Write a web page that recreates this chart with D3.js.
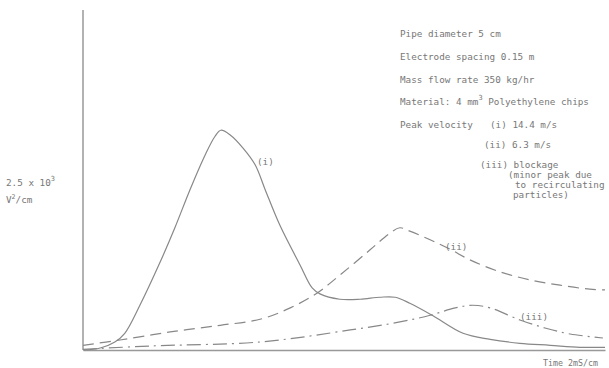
<!DOCTYPE html>
<html><head><meta charset="utf-8">
<script src="https://cdn.jsdelivr.net/npm/d3@7"></script>
<style>
html,body{margin:0;padding:0;background:#fff;}
text{font-family:"DejaVu Sans Mono","Liberation Mono",monospace;fill:#777;}
</style></head>
<body><svg id="c" width="609" height="368"></svg>
<script>
// Curve (i): peak velocity 14.4 m/s
const xI = [0,3.3,6.1,8.0,10.9,14.8,17.6,20.5,23.4,25.3,26.4,28.2,30.7,33.0,34.9,37.7,41.6,43.9,45.4,49.2,53.1,56.9,59.8,62.6,66.9,72.8,78.0,83.7,89.5,95.2,100];
const yI = [0,0.03,0.12,0.25,0.67,1.32,1.83,2.40,2.92,3.20,3.29,3.22,3.02,2.77,2.40,1.87,1.27,0.93,0.84,0.76,0.76,0.79,0.79,0.70,0.52,0.25,0.16,0.10,0.07,0.04,0.04];
// Curve (ii): peak velocity 6.3 m/s
const xII = [0,7.1,16.7,26.3,33.9,39.7,44.8,49.2,55.0,58.8,60.7,62.6,66.5,70.3,74.1,79.9,85.6,91.4,97.1,100];
const yII = [0.07,0.15,0.27,0.37,0.46,0.63,0.85,1.12,1.50,1.75,1.83,1.78,1.65,1.51,1.35,1.17,1.05,0.97,0.91,0.90];
// Curve (iii): blockage
const xIII = [0,12.8,33.9,51.2,60.7,66.5,71.3,74.7,78.0,83.7,88.5,93.3,99.6];
const yIII = [0.01,0.06,0.12,0.30,0.42,0.52,0.63,0.67,0.63,0.45,0.33,0.24,0.18];

const seriesNames = ["(i)","(ii)","(iii)"];
const notes = ["Pipe diameter 5 cm","Electrode spacing 0.15 m","Mass flow rate 350 kg/hr"];

const svg = d3.select("#c");
const x = d3.scaleLinear().domain([0,100]).range([83,605]);
const y = d3.scaleLinear().domain([0,5]).range([350,16]);
const yTop = 10;

// axes (no ticks)
svg.append("g").attr("transform","translate(0,350)")
  .call(d3.axisBottom(x).tickValues([]).tickSizeOuter(0))
  .call(g=>g.select(".domain").attr("stroke","#999").attr("stroke-width",1.5));
svg.append("line").attr("x1",83).attr("x2",83).attr("y1",yTop).attr("y2",350)
  .attr("stroke","#999").attr("stroke-width",1.5);

const line = d3.line().x(d=>x(d[0])).y(d=>y(d[1])).curve(d3.curveCatmullRom.alpha(0.5));
const mk = (xs,ys)=>xs.map((v,i)=>[v,ys[i]]);

svg.append("path").datum(mk(xI,yI)).attr("d",line)
  .attr("fill","none").attr("stroke","#888").attr("stroke-width",1.2);
svg.append("path").datum(mk(xII,yII)).attr("d",line)
  .attr("fill","none").attr("stroke","#888").attr("stroke-width",1.2)
  .attr("stroke-dasharray","11,6");
svg.append("path").datum(mk(xIII,yIII)).attr("d",line)
  .attr("fill","none").attr("stroke","#888").attr("stroke-width",1.2)
  .attr("stroke-dasharray","14,5,2,5");

const fs = 9.3;
function t(xp,yp,s,size){return svg.append("text").attr("x",xp).attr("y",yp).attr("font-size",size||fs).text(s);}

// curve labels
t(257,165,seriesNames[0]);
t(445,250,seriesNames[1]);
t(520,320,seriesNames[2]);

// y label
const yl = t(6,186,"2.5 x 10");
yl.append("tspan").attr("dy",-5).attr("font-size",7).text("3");
const vl = t(6,203,"V");
vl.append("tspan").attr("dy",-4).attr("font-size",6.5).text("2");
vl.append("tspan").attr("dy",4).text("/cm");

// notes
t(400,37,notes[0]);
t(400,60,notes[1]);
t(400,83,notes[2]);
const m = t(400,105,"Material: 4 mm");
m.append("tspan").attr("dy",-5).attr("font-size",7).text("3");
m.append("tspan").attr("dy",5).text(" Polyethylene chips");
t(400,128,"Peak velocity");
t(490,128,"(i) 14.4 m/s");
t(484,148,"(ii) 6.3 m/s");
t(480,168,"(iii) blockage");
t(508,178,"(minor peak due");
t(515,188,"to recirculating");
t(513,198,"particles)");

// x label
t(543,366,"Time 2mS/cm",8.3);
</script></body></html>
